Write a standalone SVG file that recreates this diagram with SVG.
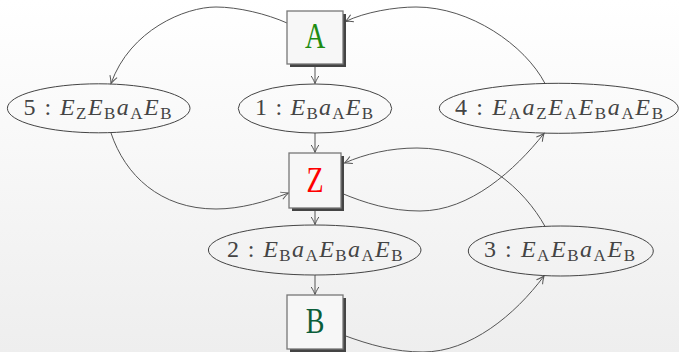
<svg xmlns="http://www.w3.org/2000/svg" width="679" height="352" viewBox="0 0 679 352">
<defs>
<linearGradient id="bg" x1="0" y1="0" x2="0" y2="1">
<stop offset="0" stop-color="#ffffff"/>
<stop offset="1" stop-color="#eeeeee"/>
</linearGradient>
<marker id="arr" viewBox="-9 -5 10 10" markerWidth="10" markerHeight="10" refX="0" refY="0" orient="auto" markerUnits="userSpaceOnUse" overflow="visible">
<path d="M-7.5,-3.8 C-4.5,-1.8 -1.5,-0.6 0,0 C-1.5,0.6 -4.5,1.8 -7.5,3.8" fill="none" stroke="#555" stroke-width="1"/>
</marker>
<style>
.edge{fill:none;stroke:#555;stroke-width:1;marker-end:url(#arr)}
.ell{fill:none;stroke:#444;stroke-width:1}
.lbl{font-family:"Liberation Serif","Times New Roman",serif;font-size:24px;fill:#444}
.it{font-style:italic}
.sub{font-size:17px}
.box{fill:#f7f7f7;stroke:#777;stroke-width:1.3}
.shadow{fill:#444}
.big{font-family:"Liberation Serif","Times New Roman",serif;font-size:28px;text-anchor:middle}
</style>
</defs>
<rect x="0" y="0" width="679" height="352" fill="url(#bg)"/>

<g id="connectors">
<line class="edge" x1="315" y1="66" x2="315" y2="83.5"/>
<line class="edge" x1="315" y1="133" x2="315" y2="152.5"/>
<line class="edge" x1="315" y1="210" x2="315" y2="224.5"/>
<line class="edge" x1="315" y1="275" x2="315" y2="294.5"/>
<path class="edge" d="M287,23 C267,14 238,7 216,7 C185,7 130,30 111,83.5"/>
<path class="edge" d="M111,133 C125,175 160,209 216,209 C240,209 265,202 288.5,193"/>
<path class="edge" d="M545,83.5 C525,45 470,7 416,7 C395,7 365,12 345.5,21.5"/>
<path class="edge" d="M341,193 C365,203 390,211 420,211 C470,211 515,170 544,133.5"/>
<path class="edge" d="M545,226.4 C525,190 480,148 417,148 C390,148 365,154 344.5,163"/>
<path class="edge" d="M343,335 C370,345 395,352 423,352 C470,352 515,315 544,276"/>
</g>

<g id="A">
<rect class="shadow" x="290" y="14" width="56" height="53"/>
<rect class="box" x="287" y="11" width="56" height="53"/>
<text class="big" transform="translate(315,48.3) scale(1,1.27)" fill="#218c12">A</text>
</g>
<g id="Z">
<rect class="shadow" x="292" y="156" width="52" height="55"/>
<rect class="box" x="289" y="153" width="52" height="55"/>
<text class="big" transform="translate(315,191.7) scale(1,1.27)" fill="#ff0000">Z</text>
</g>
<g id="B">
<rect class="shadow" x="290" y="298" width="56" height="54"/>
<rect class="box" x="287" y="295" width="56" height="54"/>
<text class="big" transform="translate(315,332.7) scale(1,1.27)" fill="#0b5e3a">B</text>
</g>

<g id="n1">
<ellipse class="ell" cx="315" cy="108.5" rx="76.7" ry="24.5"/>
<text class="lbl" x="255" y="115" textLength="118" lengthAdjust="spacing">1 : <tspan class="it">E</tspan><tspan class="sub" dy="4">B</tspan><tspan class="it" dy="-4">a</tspan><tspan class="sub" dy="4">A</tspan><tspan class="it" dy="-4">E</tspan><tspan class="sub" dy="4">B</tspan></text>
</g>
<g id="n5">
<ellipse class="ell" cx="98.7" cy="108.3" rx="91.3" ry="24.5"/>
<text class="lbl" x="23.5" y="115" textLength="148" lengthAdjust="spacing">5 : <tspan class="it">E</tspan><tspan class="sub" dy="4">Z</tspan><tspan class="it" dy="-4">E</tspan><tspan class="sub" dy="4">B</tspan><tspan class="it" dy="-4">a</tspan><tspan class="sub" dy="4">A</tspan><tspan class="it" dy="-4">E</tspan><tspan class="sub" dy="4">B</tspan></text>
</g>
<g id="n4">
<ellipse class="ell" cx="558.8" cy="108.3" rx="119.5" ry="25"/>
<text class="lbl" x="455" y="115" textLength="208" lengthAdjust="spacing">4 : <tspan class="it">E</tspan><tspan class="sub" dy="4">A</tspan><tspan class="it" dy="-4">a</tspan><tspan class="sub" dy="4">Z</tspan><tspan class="it" dy="-4">E</tspan><tspan class="sub" dy="4">A</tspan><tspan class="it" dy="-4">E</tspan><tspan class="sub" dy="4">B</tspan><tspan class="it" dy="-4">a</tspan><tspan class="sub" dy="4">A</tspan><tspan class="it" dy="-4">E</tspan><tspan class="sub" dy="4">B</tspan></text>
</g>
<g id="n2">
<ellipse class="ell" cx="314.7" cy="250" rx="106.3" ry="25"/>
<text class="lbl" x="227" y="257" textLength="175.5" lengthAdjust="spacing">2 : <tspan class="it">E</tspan><tspan class="sub" dy="4">B</tspan><tspan class="it" dy="-4">a</tspan><tspan class="sub" dy="4">A</tspan><tspan class="it" dy="-4">E</tspan><tspan class="sub" dy="4">B</tspan><tspan class="it" dy="-4">a</tspan><tspan class="sub" dy="4">A</tspan><tspan class="it" dy="-4">E</tspan><tspan class="sub" dy="4">B</tspan></text>
</g>
<g id="n3">
<ellipse class="ell" cx="560.8" cy="251" rx="92.5" ry="25"/>
<text class="lbl" x="484" y="257" textLength="151" lengthAdjust="spacing">3 : <tspan class="it">E</tspan><tspan class="sub" dy="4">A</tspan><tspan class="it" dy="-4">E</tspan><tspan class="sub" dy="4">B</tspan><tspan class="it" dy="-4">a</tspan><tspan class="sub" dy="4">A</tspan><tspan class="it" dy="-4">E</tspan><tspan class="sub" dy="4">B</tspan></text>
</g>
</svg>
